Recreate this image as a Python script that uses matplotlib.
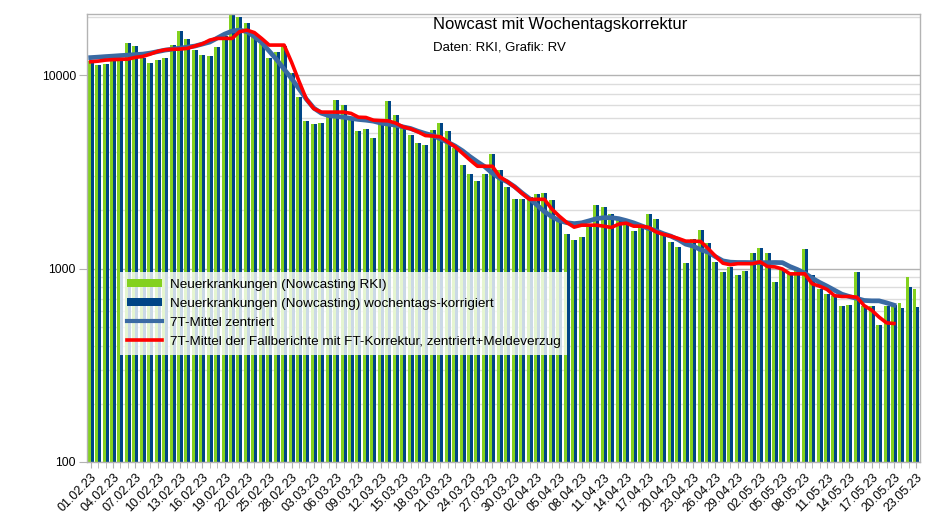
import matplotlib
matplotlib.use("Agg")
import matplotlib.pyplot as plt
import numpy as np
import pandas as pd
from matplotlib.patches import Patch
from matplotlib.lines import Line2D
from matplotlib.ticker import LogLocator, NullFormatter, FixedLocator, FixedFormatter

plt.rcParams['font.family'] = ['Liberation Sans', 'DejaVu Sans']

dates = pd.date_range("2023-02-01", "2023-05-23", freq="D")
date_labels = [d.strftime("%d.%m.%y") for d in dates]

nowcast_rki = [
    11810, 11270, 11400, 11810, 11960, 14580, 14130, 12320, 11530, 11960,
    12200, 14240, 16880, 15350, 13550, 12690, 12540, 13910, 15910, 20430,
    20020, 18570, 16200, 14460, 12200, 13200, 14130, 10200, 7700, 5780,
    5560, 5650, 6100, 7430, 6970, 5880, 5160, 5290, 4710, 5560,
    7360, 6210, 5320, 4900, 4470, 4360, 5200, 5680, 5120, 4220,
    3410, 3070, 2840, 3070, 3900, 3230, 2630, 2300, 2280, 2340,
    2420, 2460, 2250, 1780, 1510, 1400, 1450, 1660, 2130, 2070,
    1910, 1790, 1670, 1560, 1650, 1910, 1800, 1490, 1370, 1295,
    1066, 1414, 1580, 1350, 1075, 954, 1014, 924, 966, 1197,
    1270, 1206, 854, 993, 943, 989, 1260, 924, 780, 737,
    722, 639, 644, 958, 639, 639, 510, 639, 647, 660,
    906, 780,
]

nowcast_wt = [
    11810, 11270, 11400, 11810, 11960, 14580, 14130, 12320, 11530, 11960,
    12200, 14240, 16880, 15350, 13550, 12690, 12540, 13910, 15910, 20430,
    20020, 18570, 16200, 14460, 12200, 13200, 14130, 10200, 7700, 5780,
    5560, 5650, 6100, 7430, 6970, 5880, 5160, 5290, 4710, 5560,
    7360, 6210, 5320, 4900, 4470, 4360, 5200, 5680, 5120, 4220,
    3410, 3070, 2840, 3070, 3900, 3230, 2630, 2300, 2280, 2340,
    2420, 2460, 2250, 1780, 1510, 1400, 1450, 1660, 2130, 2070,
    1910, 1790, 1670, 1560, 1650, 1910, 1800, 1490, 1370, 1295,
    1066, 1414, 1580, 1350, 1075, 954, 1014, 924, 966, 1197,
    1270, 1206, 854, 993, 943, 989, 1260, 924, 780, 737,
    722, 639, 644, 958, 639, 639, 510, 639, 647, 626,
    804, 629,
]

mean7_centered = [
    12320, 12390, 12470, 12540, 12620, 12690, 12770, 12840, 13000, 13230,
    13470, 13630, 13790, 13960, 14130, 14470, 14820, 15540, 16290, 16890,
    17090, 16790, 15820, 14720, 13310, 12030, 10740, 9610, 8510, 7510,
    6750, 6360, 6170, 6120, 6060, 5970, 5900, 5850, 5780, 5650,
    5580, 5510, 5400, 5300, 5130, 4990, 4870, 4690, 4500, 4300,
    4060, 3790, 3560, 3360, 3110, 2930, 2810, 2650, 2460, 2300,
    2130, 1970, 1855, 1770, 1727, 1707, 1723, 1765, 1811, 1833,
    1833, 1811, 1770, 1723, 1666, 1611, 1570, 1515, 1471, 1411,
    1337, 1306, 1252, 1216, 1152, 1096, 1079, 1075, 1075, 1073,
    1073, 1073, 1075, 1073, 1025, 989, 947, 892, 848, 811,
    773, 737, 717, 701, 684, 681, 681, 665, 647,
]

mean7_reports = [
    11720, 11810, 11960, 12030, 12060, 12100, 12350, 12490, 12840, 13260,
    13520, 13600, 13630, 13750, 14130, 14500, 15170, 15480, 15480, 15480,
    16750, 17090, 16590, 15450, 14300, 14300, 14300, 11670, 9310, 7510,
    6710, 6440, 6440, 6440, 6440, 6340, 6060, 6040, 5850, 5820,
    5800, 5650, 5400, 5280, 5090, 4870, 4840, 4800, 4520, 4260,
    3940, 3640, 3380, 3380, 3380, 2980, 2820, 2640, 2445, 2280,
    2280, 2280, 2030, 1866, 1731, 1637, 1676, 1676, 1676, 1656,
    1631, 1697, 1717, 1656, 1656, 1633, 1548, 1501, 1471, 1431,
    1386, 1386, 1381, 1270, 1159, 1066, 1047, 1060, 1060, 1060,
    1083, 1025, 1020, 995, 939, 939, 939, 834, 811, 780,
    724, 717, 717, 711, 643, 609, 561, 524, 520,
]

series_labels = [
    "Neuerkrankungen (Nowcasting RKI)",
    "Neuerkrankungen (Nowcasting) wochentags-korrigiert",
    "7T-Mittel zentriert",
    "7T-Mittel der Fallberichte mit FT-Korrektur, zentriert+Meldeverzug",
]
title = "Nowcast mit Wochentagskorrektur"
subtitle = "Daten: RKI, Grafik: RV"

c_green = "#83d11f"
c_navy = "#004586"
c_line = "#3a6aa3"
c_red = "#ff0000"
c_grid_major = "#b3b3b3"
c_grid_minor = "#dcdcdc"

W, H = 943, 530
fig = plt.figure(figsize=(W / 100, H / 100), dpi=100)
L, R, T, B = 87, 920, 14, 462
ax = fig.add_axes([L / W, 1 - B / H, (R - L) / W, (B - T) / H])

x = np.arange(len(dates))
ax.set_yscale("log")
bw = 0.40
ax.bar(x - bw / 2, nowcast_rki, width=bw, color=c_green, zorder=2, bottom=1)
ax.bar(x + bw / 2, nowcast_wt, width=bw, color=c_navy, zorder=2, bottom=1)

xl = np.arange(len(mean7_centered))
ax.plot(xl, mean7_centered, color=c_line, lw=3.4, zorder=3, solid_joinstyle="round")
xr = np.arange(len(mean7_reports))
ax.plot(xr, mean7_reports, color=c_red, lw=2.6, zorder=4, solid_joinstyle="round")

ax.set_xlim(-0.5, len(dates) - 0.5)
ax.set_ylim(100, 20700)

ax.yaxis.set_major_locator(FixedLocator([100, 1000, 10000]))
ax.yaxis.set_major_formatter(FixedFormatter(["100", "1000", "10000"]))
ax.yaxis.set_minor_locator(LogLocator(base=10, subs=np.arange(2, 10)))
ax.yaxis.set_minor_formatter(NullFormatter())
ax.grid(axis="y", which="major", color=c_grid_major, lw=1.0, zorder=0)
ax.grid(axis="y", which="minor", color=c_grid_minor, lw=1.0, zorder=0)
ax.set_axisbelow(True)

ax.tick_params(axis="y", which="major", length=6, color=c_grid_major, labelsize=8.7, pad=2)
ax.tick_params(axis="y", which="minor", length=0)

ax.set_xticks(x[::3])
ax.set_xticklabels(date_labels[::3], rotation=45, ha="right", rotation_mode="anchor", fontsize=9)
ax.set_xticks(x, minor=True)
ax.tick_params(axis="x", which="both", length=4, color=c_grid_major, pad=3)

for s in ax.spines.values():
    s.set_color(c_grid_major)
    s.set_linewidth(1.0)

handles = [
    Patch(facecolor=c_green, edgecolor="none"),
    Patch(facecolor=c_navy, edgecolor="none"),
    Line2D([], [], color=c_line, lw=3),
    Line2D([], [], color=c_red, lw=2.6),
]
leg = ax.legend(handles, series_labels, loc="upper left",
                bbox_to_anchor=((120 - L) / (R - L), (B - 272) / (B - T)),
                fontsize=9.7, frameon=True, fancybox=False, borderaxespad=0,
                handlelength=2.6, handleheight=0.6, handletextpad=0.6,
                labelspacing=0.52, borderpad=0.5)
leg.get_frame().set_facecolor("white")
leg.get_frame().set_alpha(0.8)
leg.get_frame().set_edgecolor("none")
leg.set_zorder(5)

fig.text(433 / W, 1 - 24 / H, title, fontsize=12, ha="left", va="center")
fig.text(433 / W, 1 - 48 / H, subtitle, fontsize=9.5, ha="left", va="center")

fig.savefig("out.png", dpi=100, facecolor="white")
